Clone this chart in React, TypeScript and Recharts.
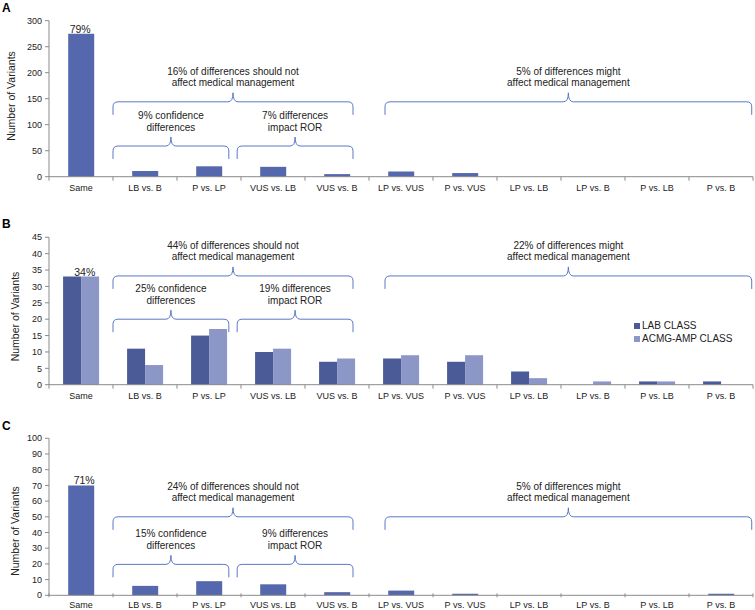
import React from 'react';
import { BarChart, Bar, XAxis, YAxis, ReferenceLine, LabelList } from 'recharts';

const categories = [
  'Same', 'LB vs. B', 'P vs. LP', 'VUS vs. LB', 'VUS vs. B', 'LP vs. VUS',
  'P vs. VUS', 'LP vs. LB', 'LP vs. B', 'P vs. LB', 'P vs. B',
];

// panel A: single series
const countsA = [275, 11, 20, 19, 5, 10, 7, 0, 0, 0, 0];
// panel B: lab vs acmg-amp
const labB = [33, 11, 15, 10, 7, 8, 7, 4, 0, 1, 1];
const acmgB = [33, 6, 17, 11, 8, 9, 9, 2, 1, 1, 0];
// panel C: single series
const countsC = [70, 6, 9, 7, 2, 3, 1, 0, 0, 0, 1];

const ticksA = [0, 50, 100, 150, 200, 250, 300];
const ticksB = [0, 5, 10, 15, 20, 25, 30, 35, 40, 45];
const ticksC = [0, 10, 20, 30, 40, 50, 60, 70, 80, 90, 100];

const samePct = ['79%', '34%', '71%'];
const seriesNames = ['LAB CLASS', 'ACMG-AMP CLASS'];

const braceTextA = [
  ['16% of differences should not', 'affect medical management'],
  ['9% confidence', 'differences'],
  ['7% differences', 'impact ROR'],
  ['5% of differences might', 'affect medical management'],
];
const braceTextB = [
  ['44% of differences should not', 'affect medical management'],
  ['25% confidence', 'differences'],
  ['19% differences', 'impact ROR'],
  ['22% of differences might', 'affect medical management'],
];
const braceTextC = [
  ['24% of differences should not', 'affect medical management'],
  ['15% confidence', 'differences'],
  ['9% differences', 'impact ROR'],
  ['5% of differences might', 'affect medical management'],
];

const W = 755;
const Y_AXIS_W = 49;
const RIGHT = 2;
const X_AXIS_H = 14;
const BAND = (W - Y_AXIS_W - RIGHT) / categories.length;

const TEXT = '#222';
const AXIS = '#8a8a8a';
const BRACE = '#5b78c6';
const BLUE = '#5567ad';
const DARK = '#4a5b98';
const LIGHT = '#8c97c8';
const FONT = '"Liberation Sans", Arial, sans-serif';

// which categories each brace spans, and how far it reaches past the band centres
const braceSpans = [
  { from: 1, to: 4, padL: 0.5, padR: 0.25, level: 'outer' },
  { from: 1, to: 2, padL: 0.5, padR: 0.31, level: 'inner' },
  { from: 3, to: 4, padL: 0.56, padR: 0.25, level: 'inner' },
  { from: 5, to: 10, padL: 0.25, padR: 0.48, level: 'outer' },
];

const makeBrace = (span: any, lines: string[]) => (props: any) => {
  const { x1, x2, y1 } = props;
  if (x1 == null || x2 == null || y1 == null) return <g />;
  const band = (x2 - x1) / (span.to - span.from);
  const xl = x1 - span.padL * band;
  const xr = x2 + span.padR * band;
  const xm = (xl + xr) / 2;
  const y = y1;
  const d =
    `M${xl},${y + 13} L${xl},${y + 5} Q${xl},${y} ${xl + 5},${y} ` +
    `L${xm - 5},${y} Q${xm},${y} ${xm},${y - 9} Q${xm},${y} ${xm + 5},${y} ` +
    `L${xr - 5},${y} Q${xr},${y} ${xr},${y + 5} L${xr},${y + 13}`;
  return (
    <g>
      <path d={d} fill="none" stroke={BRACE} strokeWidth={1} />
      <text x={xm} y={y - 27} textAnchor="middle" fontSize={10} fill={TEXT}>{lines[0]}</text>
      <text x={xm} y={y - 15.5} textAnchor="middle" fontSize={10} fill={TEXT}>{lines[1]}</text>
    </g>
  );
};

const CatTick = (props: any) => {
  const { x, y, payload, index } = props;
  const half = payload && payload.offset ? payload.offset : BAND / 2;
  const axisY = props.y1 != null ? props.y1 : y - 8;
  const last = index === categories.length - 1;
  return (
    <g>
      <line x1={x - half} x2={x - half} y1={axisY} y2={axisY + 4} stroke={AXIS} />
      {last && <line x1={x + half} x2={x + half} y1={axisY} y2={axisY + 4} stroke={AXIS} />}
      <text x={x} y={y} dy="0.71em" textAnchor="middle" fontSize={9} fill={TEXT}>
        {payload.value}
      </text>
    </g>
  );
};

type PanelProps = {
  top: number;
  height: number;
  mt: number;
  mb: number;
  ticks: number[];
  series: { values: number[]; color: string; name: string }[];
  braceText: string[][];
  braceY: { outer: number; inner: number };
  pct: string;
  pctDx: number;
  gap: string;
  labelGap: number;
};

const Panel = ({ top, height, mt, mb, ticks, series, braceText, braceY, pct, pctDx, gap, labelGap }: PanelProps) => {
  const rows = categories.map((cat, i) => {
    const row: any = { cat };
    series.forEach((s, k) => { row['s' + k] = s.values[i]; });
    return row;
  });
  const pctLabel = (p: any) => {
    if (p.index !== 0) return null;
    const cx = p.x + p.width / 2 + pctDx;
    return (
      <text x={cx} y={p.y - 1} textAnchor="middle" fontSize={10.5} fill={TEXT}>{pct}</text>
    );
  };
  return (
    <div style={{ position: 'absolute', left: 0, top }}>
      <BarChart
        width={W}
        height={height}
        data={rows}
        margin={{ top: mt, right: RIGHT, bottom: mb, left: 0 }}
        barCategoryGap={gap}
        barGap={0}
      >
        <XAxis
          dataKey="cat"
          interval={0}
          height={X_AXIS_H}
          tickSize={4}
          tickMargin={labelGap}
          tickLine={false}
          axisLine={{ stroke: AXIS }}
          tick={<CatTick />}
        />
        <YAxis
          width={Y_AXIS_W}
          domain={[0, ticks[ticks.length - 1]]}
          ticks={ticks}
          interval={0}
          tickSize={4}
          tickMargin={3}
          axisLine={{ stroke: AXIS }}
          tickLine={{ stroke: AXIS }}
          tick={{ fontSize: 9, fill: TEXT }}
        />
        {series.map((s, k) => (
          <Bar key={s.name} dataKey={'s' + k} name={s.name} fill={s.color} isAnimationActive={false}>
            {k === 0 && <LabelList dataKey={'s' + k} content={pctLabel} />}
          </Bar>
        ))}
        {braceSpans.map((span, i) => {
          const yv = span.level === 'outer' ? braceY.outer : braceY.inner;
          return (
            <ReferenceLine
              key={i}
              segment={[
                { x: categories[span.from], y: yv },
                { x: categories[span.to], y: yv },
              ]}
              ifOverflow="visible"
              shape={makeBrace(span, braceText[i])}
            />
          );
        })}
      </BarChart>
    </div>
  );
};

const App: React.FC = () => {
  return (
    <div style={{ position: 'relative', width: W, height: 610, fontFamily: FONT, background: '#fff' }}>
      <style>{'body{margin:0}'}</style>
      <Panel
        top={0}
        height={200}
        mt={20.7}
        mb={9.3}
        ticks={ticksA}
        series={[{ values: countsA, color: BLUE, name: 'A' }]}
        braceText={braceTextA}
        braceY={{ outer: 144, inner: 59 }}
        pct={samePct[0]}
        pctDx={-1}
        gap="30%"
        labelGap={4}
      />
      <Panel
        top={200}
        height={210}
        mt={37.3}
        mb={11.3}
        ticks={ticksB}
        series={[
          { values: labB, color: DARK, name: seriesNames[0] },
          { values: acmgB, color: LIGHT, name: seriesNames[1] },
        ]}
        braceText={braceTextB}
        braceY={{ outer: 33.2, inner: 20 }}
        pct={samePct[1]}
        pctDx={12.7}
        gap="22%"
        labelGap={4}
      />
      <Panel
        top={410}
        height={200}
        mt={28.3}
        mb={0.7}
        ticks={ticksC}
        series={[{ values: countsC, color: BLUE, name: 'C' }]}
        braceText={braceTextC}
        braceY={{ outer: 50, inner: 19.7 }}
        pct={samePct[2]}
        pctDx={3}
        gap="30%"
        labelGap={2}
      />
      {/* legend for panel B */}
      <div style={{ position: 'absolute', left: 634, top: 319, fontSize: 10, color: TEXT, lineHeight: '13.3px' }}>
        {seriesNames.map((n, i) => (
          <div key={n} style={{ display: 'flex', alignItems: 'center', height: 13.3 }}>
            <span style={{ display: 'inline-block', width: 6, height: 6, background: i === 0 ? DARK : LIGHT, marginRight: 2 }} />
            {n}
          </div>
        ))}
      </div>
      <svg width={W} height={610} style={{ position: 'absolute', left: 0, top: 0, pointerEvents: 'none' }}>
        <text x={2} y={11.5} fontSize={12} fontWeight="bold" fill="#000">A</text>
        <text x={2} y={228} fontSize={12} fontWeight="bold" fill="#000">B</text>
        <text x={2} y={429.5} fontSize={12} fontWeight="bold" fill="#000">C</text>
        {[[15, 96], [19, 316.5], [19, 531]].map(([bx, cy], i) => (
          <text
            key={i}
            transform={`translate(${bx},${cy}) rotate(-90)`}
            textAnchor="middle"
            fontSize={10.5}
            fill={TEXT}
          >
            Number of Variants
          </text>
        ))}
      </svg>
    </div>
  );
};

export default App;
